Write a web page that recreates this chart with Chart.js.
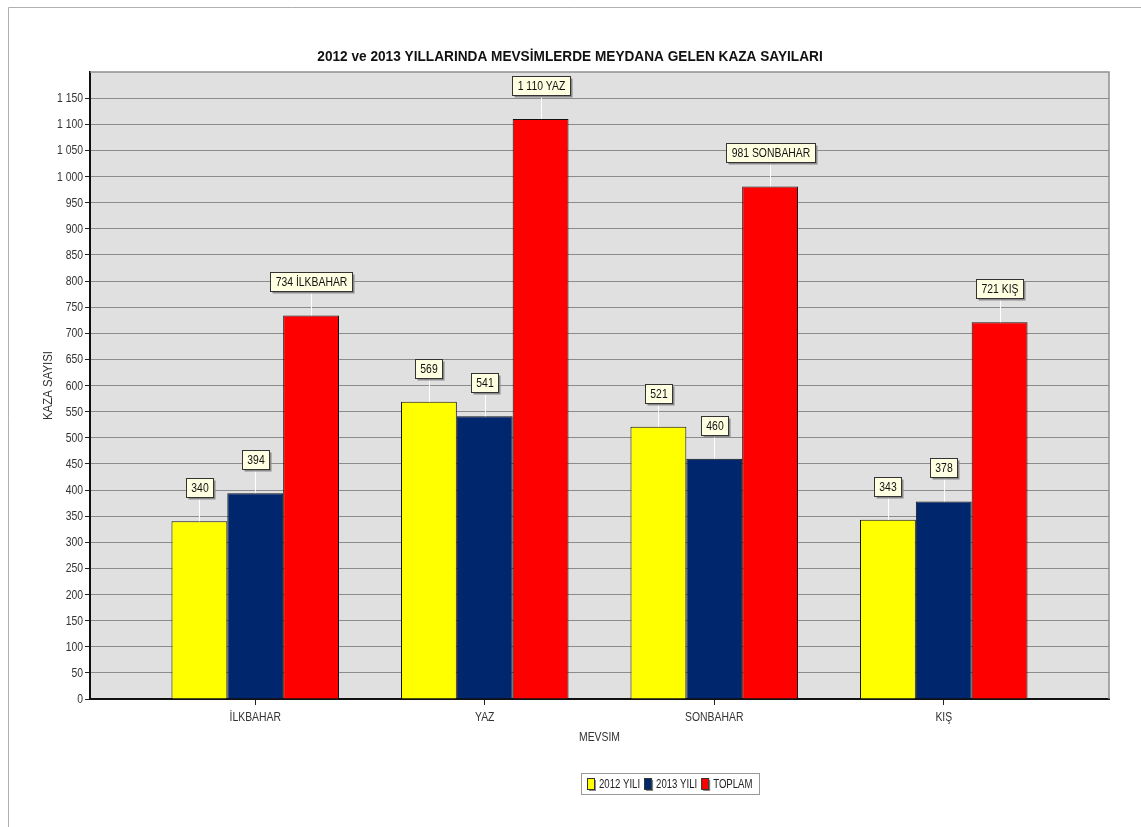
<!DOCTYPE html>
<html>
<head>
<meta charset="utf-8">
<script src="https://cdn.jsdelivr.net/npm/chart.js@4.4.0/dist/chart.umd.min.js"></script>
<style>
  body { margin: 0; background: #fff; }
  canvas { display: block; }
</style>
</head>
<body>
<canvas id="chart" width="1141" height="827"></canvas>
<script>
// data
const seasons = ['İLKBAHAR', 'YAZ', 'SONBAHAR', 'KIŞ'];
const year2012 = [340, 569, 521, 343];
const year2013 = [394, 541, 460, 378];
const totals = [734, 1110, 981, 721];
const seriesNames = ['2012 YILI', '2013 YILI', 'TOPLAM'];
const seriesColors = ['#FFFF00', '#00266E', '#FF0000'];
const yMax = 1200;
const yStep = 50;

const FONT = '"Liberation Sans", Arial, sans-serif';
const NARROW = 0.8; // squeeze text to look like the narrow face in the original

function fmt(n) {
  return String(n).replace(/\B(?=(\d{3})+(?!\d))/g, ' ');
}

function toPoints(arr) {
  return arr.map((v, i) => ({ x: i + 1, y: v }));
}

// draw text squeezed horizontally
function narrowText(ctx, txt, x, y, align, sx) {
  sx = sx || NARROW;
  ctx.save();
  ctx.translate(x, y);
  ctx.scale(sx, 1);
  ctx.textAlign = align;
  ctx.fillText(txt, 0, 0);
  ctx.restore();
}

function narrowWidth(ctx, txt, sx) {
  return ctx.measureText(txt).width * (sx || NARROW);
}

const backdrop = {
  id: 'backdrop',
  beforeDraw(chart) {
    const { ctx, chartArea: a } = chart;
    ctx.save();
    ctx.fillStyle = '#fff';
    ctx.fillRect(0, 0, chart.width, chart.height);
    // page frame
    ctx.strokeStyle = '#b0b0b0';
    ctx.lineWidth = 1;
    ctx.beginPath();
    ctx.moveTo(8.5, chart.height);
    ctx.lineTo(8.5, 7.5);
    ctx.lineTo(chart.width, 7.5);
    ctx.stroke();
    ctx.fillStyle = '#e0e0e0';
    ctx.fillRect(a.left, a.top, a.right - a.left, a.bottom - a.top);
    ctx.restore();
  },
  afterDraw(chart) {
    const { ctx, chartArea: a } = chart;
    const xs = chart.scales.x, ys = chart.scales.y;
    ctx.save();
    // top and right plot edges
    ctx.strokeStyle = '#909090';
    ctx.lineWidth = 1.5;
    ctx.beginPath();
    ctx.moveTo(a.left, a.top);
    ctx.lineTo(a.right, a.top);
    ctx.lineTo(a.right, a.bottom);
    ctx.stroke();

    ctx.textBaseline = 'middle';

    // tick labels
    ctx.fillStyle = '#333';
    ctx.font = '13px ' + FONT;
    for (let v = 0; v < yMax; v += yStep) {
      narrowText(ctx, fmt(v), a.left - 7, ys.getPixelForValue(v) + 0.5, 'right');
    }
    seasons.forEach((s, i) => {
      narrowText(ctx, s, xs.getPixelForValue(i + 1), 717, 'center');
    });

    // title
    ctx.fillStyle = '#111';
    ctx.font = 'bold 15px ' + FONT;
    narrowText(ctx, '2012 ve 2013 YILLARINDA MEVSİMLERDE MEYDANA GELEN KAZA SAYILARI', 570, 57, 'center', 0.91);

    // axis titles
    ctx.font = '13px ' + FONT;
    ctx.fillStyle = '#333';
    narrowText(ctx, 'MEVSIM', (a.left + a.right) / 2, 737, 'center');
    ctx.save();
    ctx.translate(48, (a.top + a.bottom) / 2);
    ctx.rotate(-Math.PI / 2);
    narrowText(ctx, 'KAZA SAYISI', 0, 0, 'center', 0.88);
    ctx.restore();

    // legend
    ctx.font = '12px ' + FONT;
    let lw = 8;
    seriesNames.forEach(n => { lw += 12 + narrowWidth(ctx, n) + 4; });
    lw = Math.round(lw);
    ctx.strokeStyle = '#999';
    ctx.lineWidth = 1;
    ctx.fillStyle = '#fff';
    ctx.fillRect(581.5, 773.5, lw, 21);
    ctx.strokeRect(581.5, 773.5, lw, 21);
    let lx = 587;
    seriesNames.forEach((name, i) => {
      ctx.fillStyle = '#888';
      ctx.fillRect(lx + 2, 780, 7, 11);
      ctx.fillStyle = seriesColors[i];
      ctx.fillRect(lx, 778, 7, 11);
      ctx.strokeStyle = '#333';
      ctx.strokeRect(lx + 0.5, 778.5, 7, 11);
      ctx.fillStyle = '#222';
      narrowText(ctx, name, lx + 12, 784.5, 'left');
      lx += 12 + narrowWidth(ctx, name) + 4;
    });
    ctx.restore();
  },
  afterDatasetsDraw(chart) {
    const { ctx } = chart;
    ctx.save();
    ctx.font = '13px ' + FONT;
    ctx.textBaseline = 'middle';
    chart.data.datasets.forEach((ds, di) => {
      chart.getDatasetMeta(di).data.forEach((bar, i) => {
        const v = ds.data[i].y;
        const txt = di === 2 ? fmt(v) + ' ' + seasons[i] : fmt(v);
        const w = Math.round(narrowWidth(ctx, txt) + 10);
        const h = 19;
        const bx = Math.round(bar.x - w / 2) + 0.5;
        const by = Math.round(bar.y - 24 - h) + 0.5;
        ctx.strokeStyle = '#fff';
        ctx.lineWidth = 1;
        ctx.beginPath();
        ctx.moveTo(Math.round(bar.x) + 0.5, bar.y);
        ctx.lineTo(Math.round(bar.x) + 0.5, by + h);
        ctx.stroke();
        ctx.fillStyle = '#8a8a8a';
        ctx.fillRect(bx + 2, by + 2, w, h);
        ctx.fillStyle = '#FFFFE1';
        ctx.fillRect(bx, by, w, h);
        ctx.strokeStyle = '#333';
        ctx.strokeRect(bx, by, w, h);
        ctx.fillStyle = '#111';
        narrowText(ctx, txt, bx + w / 2, by + h / 2 + 0.5, 'center');
      });
    });
    ctx.restore();
  }
};

new Chart(document.getElementById('chart'), {
  type: 'bar',
  data: {
    datasets: [
      { label: seriesNames[0], data: toPoints(year2012), backgroundColor: seriesColors[0] },
      { label: seriesNames[1], data: toPoints(year2013), backgroundColor: seriesColors[1] },
      { label: seriesNames[2], data: toPoints(totals), backgroundColor: seriesColors[2] }
    ]
  },
  options: {
    responsive: false,
    animation: false,
    layout: { padding: { top: 72, right: 32, left: 0, bottom: 0 } },
    datasets: {
      bar: {
        borderColor: '#111',
        borderWidth: 1,
        categoryPercentage: 0.73,
        barPercentage: 1
      }
    },
    plugins: {
      legend: { display: false },
      title: { display: false },
      tooltip: { enabled: false }
    },
    scales: {
      x: {
        type: 'linear',
        offset: false,
        min: 0.28,
        max: 4.72,
        afterBuildTicks(scale) {
          scale.ticks = seasons.map((_, i) => ({ value: i + 1 }));
        },
        afterFit(scale) { scale.height = 128; },
        ticks: { display: false },
        grid: {
          offset: false,
          drawOnChartArea: false,
          drawTicks: true,
          tickLength: 6,
          tickColor: '#222'
        },
        border: { color: '#111', width: 2 }
      },
      y: {
        min: 0,
        max: yMax,
        afterFit(scale) { scale.width = 90; },
        ticks: { stepSize: yStep, display: false },
        grid: {
          color: ctx => (ctx.tick && ctx.tick.value > 0 && ctx.tick.value < yMax ? '#8c8c8c' : 'rgba(0,0,0,0)'),
          borderDash: [1, 2],
          tickColor: ctx => (ctx.tick && ctx.tick.value < yMax ? '#222' : 'rgba(0,0,0,0)'),
          tickBorderDash: [],
          tickLength: 5
        },
        border: { color: '#111', width: 2 }
      }
    }
  },
  plugins: [backdrop]
});
</script>
</body>
</html>
